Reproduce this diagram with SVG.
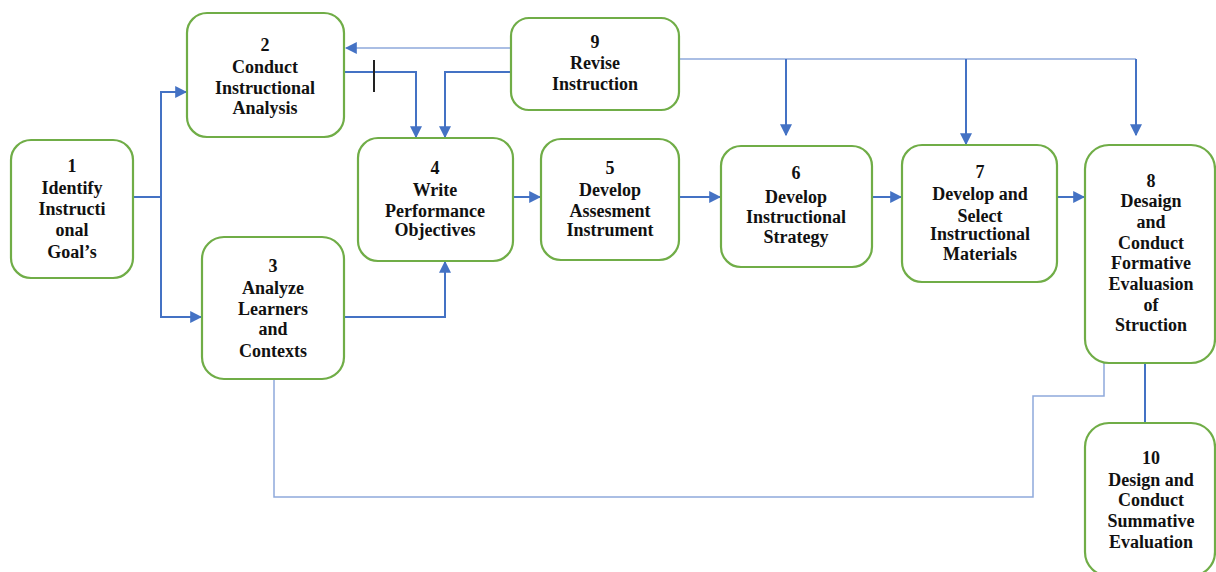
<svg xmlns="http://www.w3.org/2000/svg" width="1216" height="572" viewBox="0 0 1216 572">
<style>
.box{fill:#fff;stroke:#70AD47;stroke-width:2.2}
.t{font-family:"Liberation Serif","Times New Roman",serif;font-weight:bold;font-size:18px;fill:#111;text-anchor:middle}
.c{fill:none;stroke:#4472C4;stroke-width:2}
.thin{fill:none;stroke:#8EA9DB;stroke-width:1.5}
</style>
<defs>
<marker id="ah" viewBox="0 0 10 10" refX="9" refY="5" markerWidth="12" markerHeight="12" markerUnits="userSpaceOnUse" orient="auto">
<path d="M0,0 L10,5 L0,10 Z" fill="#4472C4"/>
</marker>
</defs>
<g id="connectors">
<polyline class="c" points="133,197 161,197"/>
<polyline class="c" points="161,317 161,92 186,92" marker-end="url(#ah)"/>
<polyline class="c" points="161,197 161,317 201,317" marker-end="url(#ah)"/>
<polyline class="thin" points="511,48 346,48" marker-end="url(#ah)"/>
<polyline class="c" points="344,72 416,72 416,137" marker-end="url(#ah)"/>
<line x1="374" y1="60" x2="374" y2="92" stroke="#222" stroke-width="2"/>
<polyline class="c" points="511,72 445,72 445,137" marker-end="url(#ah)"/>
<polyline class="c" points="344,317 445,317 445,262" marker-end="url(#ah)"/>
<polyline class="c" points="513,197 540,197" marker-end="url(#ah)"/>
<polyline class="c" points="679,197 720,197" marker-end="url(#ah)"/>
<polyline class="c" points="872,197 901,197" marker-end="url(#ah)"/>
<polyline class="c" points="1057,197 1084,197" marker-end="url(#ah)"/>
<polyline class="thin" points="679,59 1136,59"/>
<polyline class="c" points="786,59 786,135" marker-end="url(#ah)"/>
<polyline class="c" points="966,59 966,144" marker-end="url(#ah)"/>
<polyline class="c" points="1136,59 1136,135" marker-end="url(#ah)"/>
<polyline class="c" points="1145,363 1145,423"/>
<polyline class="thin" points="274,379 274,497 1033,497 1033,396 1104,396 1104,363"/>
</g>
<g id="node1">
<rect class="box" x="11" y="140" width="122" height="138" rx="20"/>
<text class="t" x="72" y="172">1</text>
<text class="t" x="72" y="194">Identify</text>
<text class="t" x="72" y="215">Instructi</text>
<text class="t" x="72" y="236">onal</text>
<text class="t" x="72" y="258">Goal’s</text>
</g>
<g id="node2">
<rect class="box" x="187" y="13" width="157" height="124" rx="20"/>
<text class="t" x="265" y="51">2</text>
<text class="t" x="265" y="73">Conduct</text>
<text class="t" x="265" y="94">Instructional</text>
<text class="t" x="265" y="114">Analysis</text>
</g>
<g id="node9">
<rect class="box" x="511" y="18" width="168" height="92" rx="18"/>
<text class="t" x="595" y="48">9</text>
<text class="t" x="595" y="69">Revise</text>
<text class="t" x="595" y="90">Instruction</text>
</g>
<g id="node3">
<rect class="box" x="202" y="237" width="142" height="142" rx="22"/>
<text class="t" x="273" y="272">3</text>
<text class="t" x="273" y="294">Analyze</text>
<text class="t" x="273" y="315">Learners</text>
<text class="t" x="273" y="335">and</text>
<text class="t" x="273" y="357">Contexts</text>
</g>
<g id="node4">
<rect class="box" x="358" y="138" width="155" height="123" rx="20"/>
<text class="t" x="435" y="174">4</text>
<text class="t" x="435" y="196">Write</text>
<text class="t" x="435" y="217">Performance</text>
<text class="t" x="435" y="236">Objectives</text>
</g>
<g id="node5">
<rect class="box" x="541" y="139" width="138" height="121" rx="20"/>
<text class="t" x="610" y="174">5</text>
<text class="t" x="610" y="196">Develop</text>
<text class="t" x="610" y="217">Assesment</text>
<text class="t" x="610" y="236">Instrument</text>
</g>
<g id="node6">
<rect class="box" x="721" y="146" width="151" height="121" rx="20"/>
<text class="t" x="796" y="179">6</text>
<text class="t" x="796" y="203">Develop</text>
<text class="t" x="796" y="223">Instructional</text>
<text class="t" x="796" y="243">Strategy</text>
</g>
<g id="node7">
<rect class="box" x="902" y="145" width="155" height="137" rx="20"/>
<text class="t" x="980" y="178">7</text>
<text class="t" x="980" y="200">Develop and</text>
<text class="t" x="980" y="222">Select</text>
<text class="t" x="980" y="240">Instructional</text>
<text class="t" x="980" y="260">Materials</text>
</g>
<g id="node8">
<rect class="box" x="1085" y="145" width="130" height="218" rx="24"/>
<text class="t" x="1151" y="187">8</text>
<text class="t" x="1151" y="207">Desaign</text>
<text class="t" x="1151" y="228">and</text>
<text class="t" x="1151" y="249">Conduct</text>
<text class="t" x="1151" y="269">Formative</text>
<text class="t" x="1151" y="290">Evaluasion</text>
<text class="t" x="1151" y="311">of</text>
<text class="t" x="1151" y="331">Struction</text>
</g>
<g id="node10">
<rect class="box" x="1085" y="423" width="130" height="153" rx="24"/>
<text class="t" x="1151" y="464">10</text>
<text class="t" x="1151" y="486">Design and</text>
<text class="t" x="1151" y="506">Conduct</text>
<text class="t" x="1151" y="527">Summative</text>
<text class="t" x="1151" y="548">Evaluation</text>
</g>
</svg>
